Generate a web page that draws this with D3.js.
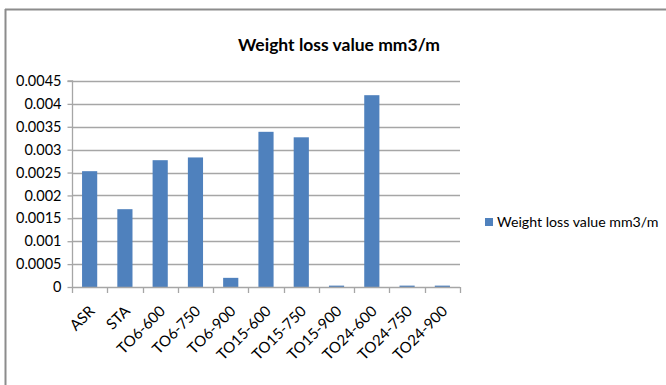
<!DOCTYPE html>
<html>
<head>
<meta charset="utf-8">
<script src="https://cdn.jsdelivr.net/npm/d3@7"></script>
<style>
  html, body { margin: 0; padding: 0; background: #fff; }
  svg { display: block; }
  text { font-family: Lato, "Open Sans", sans-serif; fill: #000; }
</style>
</head>
<body>
<svg id="chart" width="666" height="385"></svg>
<script>
// Samples and their measured weight loss (mm3/m)
const categories = ["ASR", "STA", "TO6-600", "TO6-750", "TO6-900", "TO15-600", "TO15-750", "TO15-900", "TO24-600", "TO24-750", "TO24-900"];
const weightLoss = [0.00253, 0.0017, 0.00277, 0.00283, 0.0002, 0.00339, 0.00327, 0.00003, 0.00419, 0.00003, 0.00003];
const yTicks = [0, 0.0005, 0.001, 0.0015, 0.002, 0.0025, 0.003, 0.0035, 0.004, 0.0045];
const yTickLabels = ["0", "0.0005", "0.001", "0.0015", "0.002", "0.0025", "0.003", "0.0035", "0.004", "0.0045"];
const seriesName = "Weight loss value mm3/m";

const svg = d3.select("#chart");
const W = 666, H = 385;
const plot = { left: 72, right: 460, top: 81, bottom: 287 };
const barColor = "#4f81bd";
const gridColor = "#a6a6a6";
const font = "Lato, 'Open Sans', sans-serif";

// Outer chart frame (top and left edges)
svg.append("line").attr("x1", 5).attr("x2", W).attr("y1", 9.5).attr("y2", 9.5)
  .attr("stroke", "#8c8c8c").attr("stroke-width", 2);
svg.append("line").attr("x1", 5.5).attr("x2", 5.5).attr("y1", 9).attr("y2", H)
  .attr("stroke", "#8c8c8c").attr("stroke-width", 2);

// Title
svg.append("text").attr("x", 339).attr("y", 51).attr("text-anchor", "middle")
  .attr("font-size", 17.5).attr("font-weight", "bold").text("Weight loss value mm3/m");

const x = d3.scaleBand().domain(categories).range([plot.left, plot.right]).paddingInner(0.57).paddingOuter(0.285);
const y = d3.scaleLinear().domain([0, 0.0045]).range([plot.bottom, plot.top]);

// Horizontal gridlines
svg.append("g").selectAll("line").data(yTicks.slice(1)).join("line")
  .attr("x1", plot.left).attr("x2", plot.right)
  .attr("y1", d => Math.round(y(d)) + 0.5).attr("y2", d => Math.round(y(d)) + 0.5)
  .attr("stroke", gridColor).attr("stroke-width", 1.3);

// Y axis
const yAxis = d3.axisLeft(y).tickValues(yTicks).tickFormat((d, i) => yTickLabels[i]).tickSize(5).tickPadding(6);
const gy = svg.append("g").attr("transform", `translate(${plot.left + 0.5},0)`).call(yAxis);
gy.selectAll("path, line").attr("stroke", gridColor).attr("stroke-width", 1.3);
gy.select(".domain").attr("d", `M-5,${plot.top}H0V${plot.bottom}`);
gy.selectAll("text").attr("font-size", 14.5).attr("font-family", font).attr("fill", "#000");

// Bars
svg.append("g").selectAll("rect").data(weightLoss).join("rect")
  .attr("x", (d, i) => x(categories[i]))
  .attr("width", x.bandwidth())
  .attr("y", d => y(d))
  .attr("height", d => y(0) - y(d))
  .attr("fill", barColor);

// X axis with boundary ticks between categories
const bounds = d3.range(categories.length + 1).map(i => plot.left + i * (plot.right - plot.left) / categories.length);
const gx = svg.append("g");
gx.append("line").attr("x1", plot.left).attr("x2", plot.right)
  .attr("y1", plot.bottom + 0.5).attr("y2", plot.bottom + 0.5)
  .attr("stroke", gridColor).attr("stroke-width", 1.3);
gx.selectAll("line.tick").data(bounds).join("line").attr("class", "tick")
  .attr("x1", d => Math.round(d) + 0.5).attr("x2", d => Math.round(d) + 0.5)
  .attr("y1", plot.bottom).attr("y2", plot.bottom + 6)
  .attr("stroke", gridColor).attr("stroke-width", 1.3);
gx.selectAll("text").data(categories).join("text")
  .attr("transform", d => `translate(${x(d) + x.bandwidth() / 2 + 6},${plot.bottom + 25}) rotate(-45)`)
  .attr("text-anchor", "end")
  .attr("font-size", 15)
  .text(d => d);

// Legend
const lg = svg.append("g").attr("transform", "translate(485,218)");
lg.append("rect").attr("width", 8).attr("height", 8).attr("fill", barColor);
lg.append("text").attr("x", 12).attr("y", 9).attr("font-size", 14.2).text(seriesName);
</script>
</body>
</html>
